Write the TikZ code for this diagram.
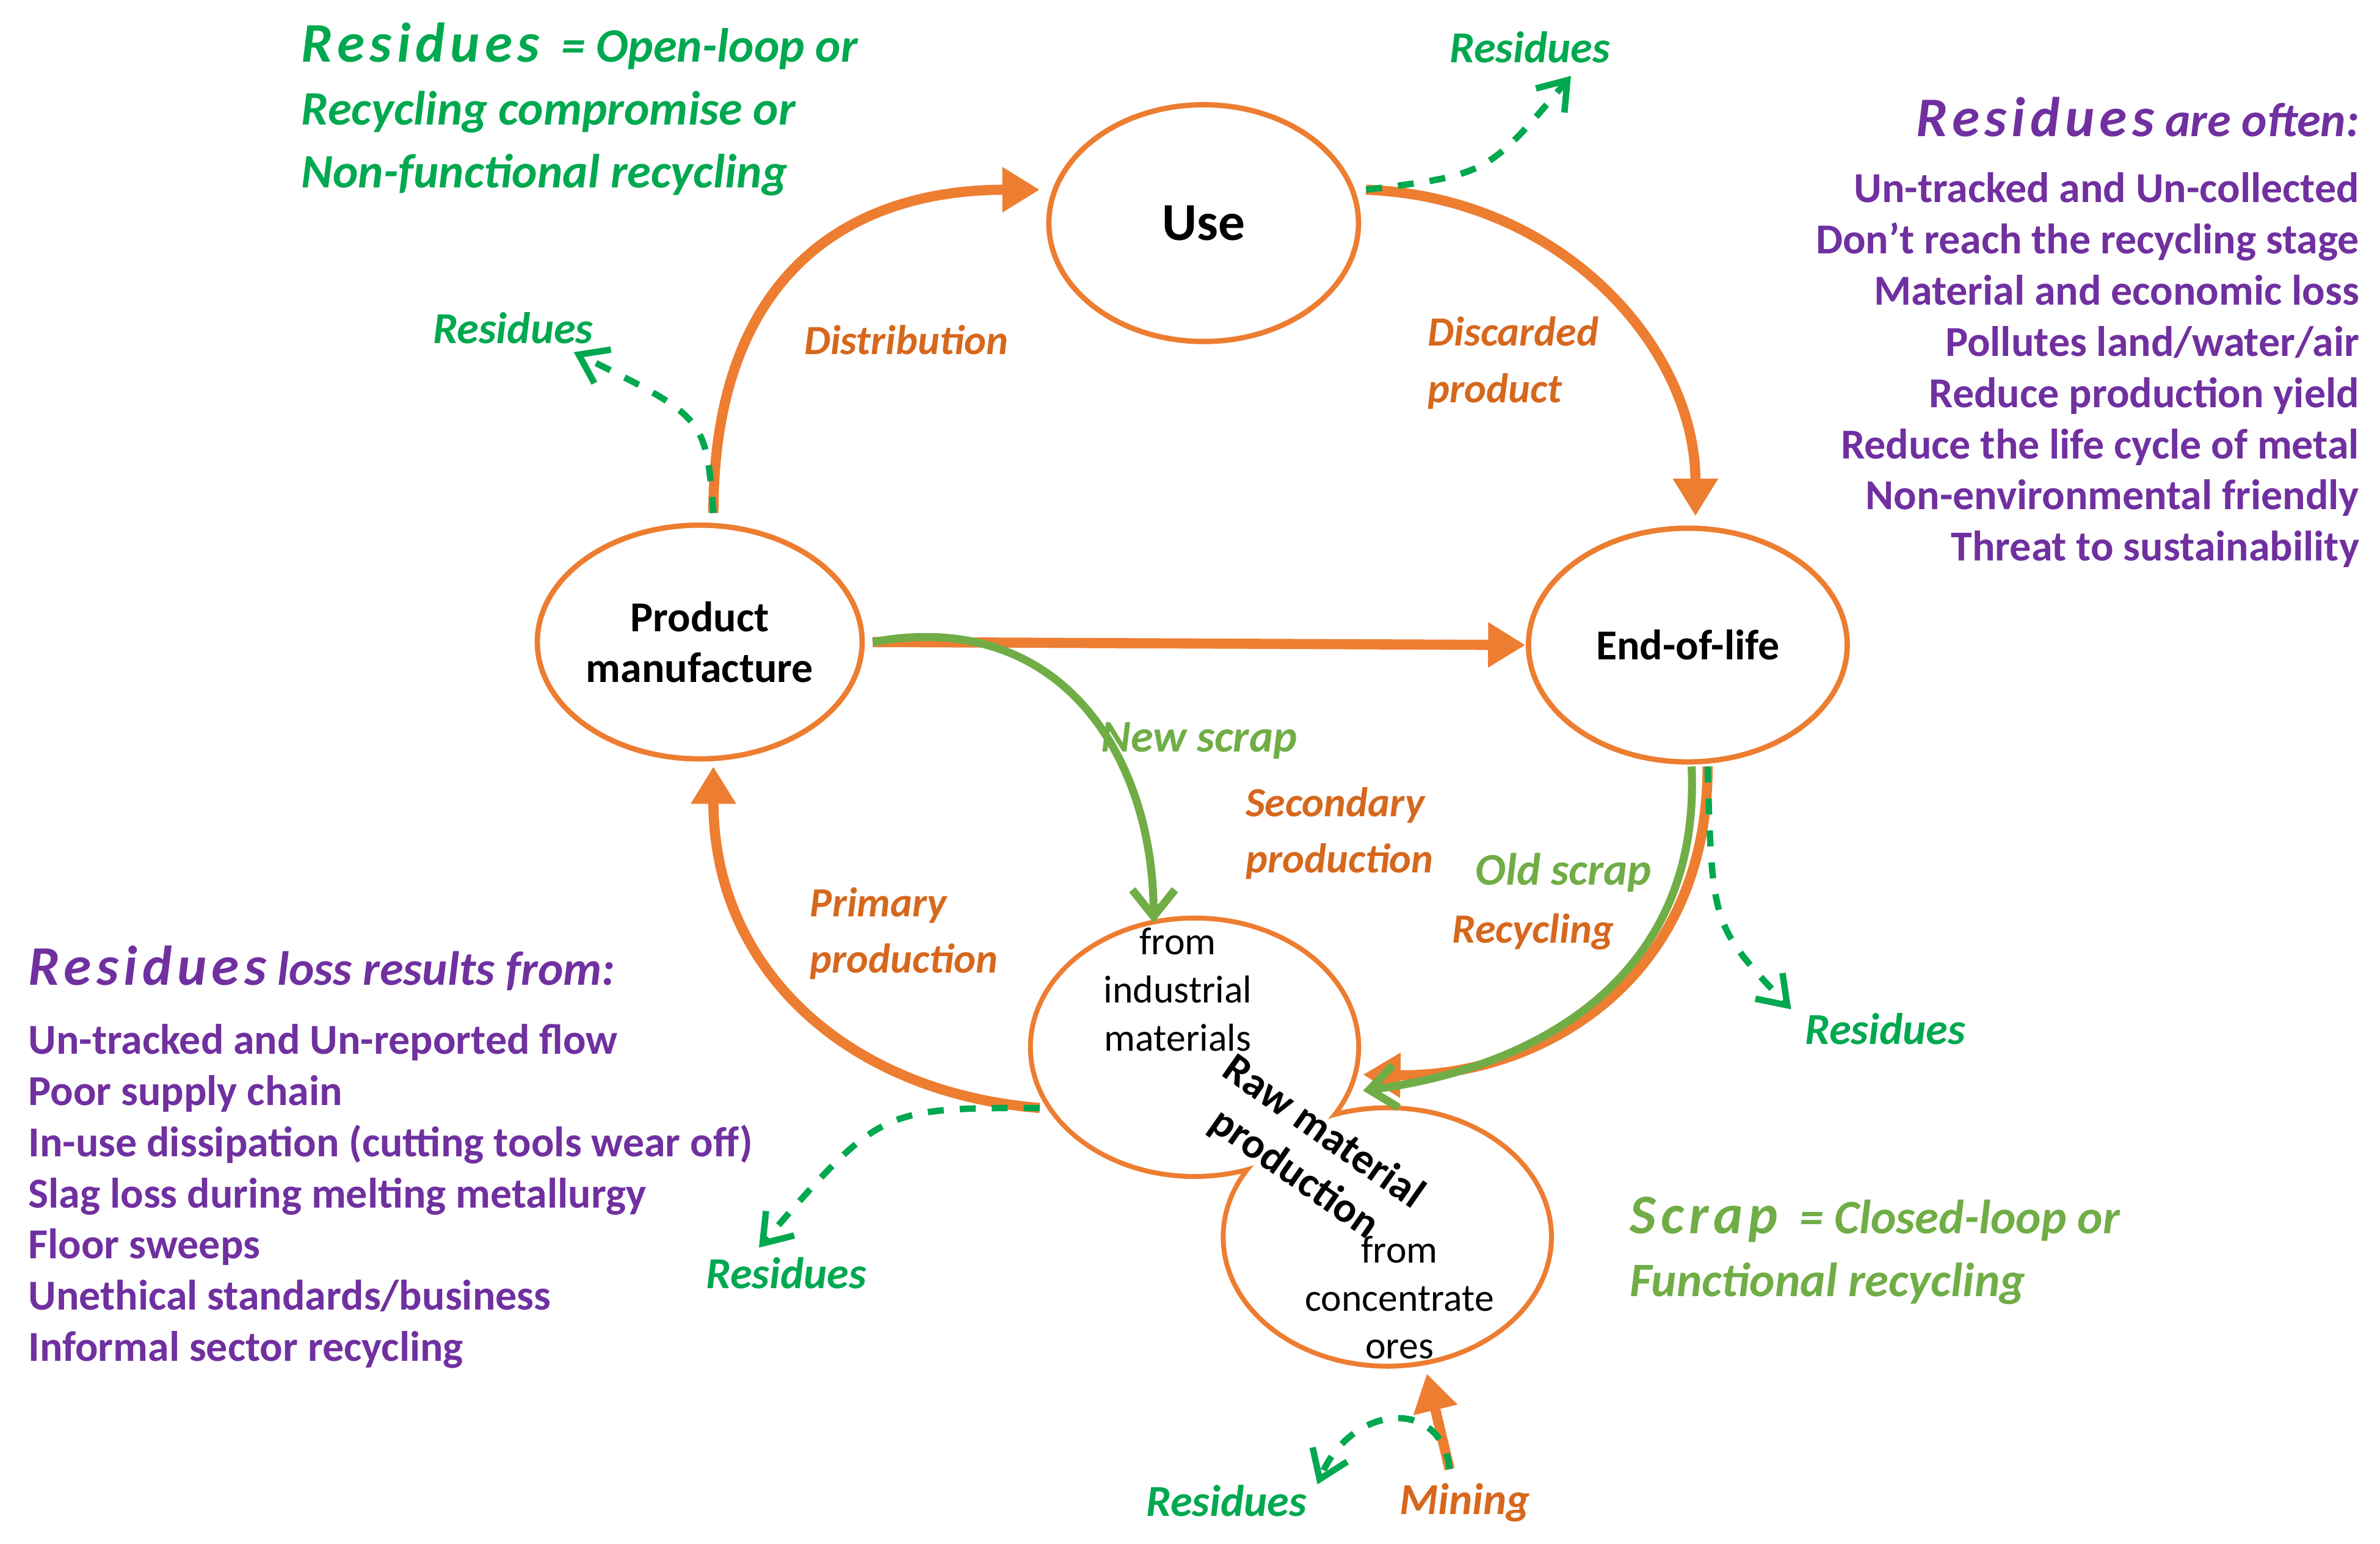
\documentclass[tikz,border=0pt]{standalone}
\usepackage{fontspec}
\setmainfont{Carlito}
\usetikzlibrary{shapes.geometric,arrows.meta}

\definecolor{flow}{RGB}{237,125,49}
\definecolor{flowtext}{RGB}{214,104,30}
\definecolor{loss}{RGB}{0,168,80}
\definecolor{scrap}{RGB}{112,173,71}
\definecolor{note}{RGB}{112,48,160}
\newcommand{\spaced}[1]{{\fontsize{10.5}{12}\selectfont\addfontfeature{LetterSpace=9}#1}}

\begin{document}
\begin{tikzpicture}[x=0.1mm, y=-0.1mm,
    stage/.style={ellipse, draw=flow, line width=1pt, fill=white, font=\fontsize{8}{9.5}\selectfont\bfseries, align=center, inner sep=0pt},
    move/.style={flow, line width=1.9pt, -{Triangle[length=7pt,width=8pt]}},
    lost/.style={loss, line width=1.2pt, dashed, -{Straight Barb[length=5pt,width=7pt]}},
    tag/.style={font=\fontsize{7.8}{9.6}\selectfont\bfseries\itshape, inner sep=0pt},
    list/.style={note, font=\fontsize{8}{9.6}\selectfont\bfseries, inner sep=0pt}]
  \useasboundingbox (0,0) rectangle (1568,1017);

  % stages
  \node[stage, minimum width=20.4mm, minimum height=15.6mm, font=\fontsize{10}{12}\selectfont\bfseries] (use) at (793,147) {Use};
  \node[stage, minimum width=21.4mm, minimum height=15.4mm] (make) at (461,423) {Product\\manufacture};
  \node[stage, minimum width=21mm, minimum height=15.4mm] (eol) at (1112,425) {End-of-life};
  \node[stage, minimum width=21.6mm, minimum height=17mm] (ore) at (914,815) {};
  \node[stage, minimum width=21.6mm, minimum height=17mm] (ind) at (787,690) {};
  \fill[white] (ore) ellipse (10.65mm and 8.35mm);
  \fill[white] (ind) ellipse (10.65mm and 8.35mm);
  \node[font=\fontsize{7.3}{9}\selectfont, align=center] (indtext) at (776,652) {from\\industrial\\materials};
  \node[font=\fontsize{7.3}{9}\selectfont, align=center] (oretext) at (922,855) {from\\concentrate\\ores};
  \node[font=\fontsize{8}{9.5}\selectfont\bfseries, rotate=-35, align=center] (raw) at (862,760) {Raw material\\production};

  % flows
  \coordinate (makeN) at (470,338);
  \coordinate (useW) at (685,125);
  \coordinate (useE) at (900,125);
  \coordinate (eolN) at (1117,340);
  \coordinate (makeE) at (575,423);
  \coordinate (eolW) at (1005,425);
  \coordinate (indW) at (685,730);
  \coordinate (makeS) at (470,505);
  \coordinate (eolS) at (1125,505);
  \coordinate (indE) at (898,708);
  \coordinate (indN) at (760,608);
  \coordinate (mine) at (955,968);
  \coordinate (oreS) at (940,905);
  \draw[move] (makeN) .. controls (470,180) and (560,125) .. (useW);
  \draw[move] (useE) .. controls (1030,130) and (1117,230) .. (eolN);
  \draw[move] (makeE) -- (eolW);
  \draw[move] (indW) .. controls (560,720) and (470,640) .. (makeS);
  \draw[move] (eolS) .. controls (1125,650) and (1010,710) .. (indE);
  \draw[scrap, line width=1.5pt, -{Straight Barb[length=5pt,width=8pt]}] ([xshift=-3]eolS) .. controls (1121,646) and (1010,704) .. ([yshift=-3]indE);
  \draw[scrap, line width=1.5pt, -{Straight Barb[length=5pt,width=8pt]}] (makeE) .. controls (700,400) and (760,500) .. (indN);
  \draw[move] (mine) -- (oreS);

  % residues
  \coordinate (r1) at (1035,50);
  \coordinate (r2) at (378,232);
  \coordinate (r3) at (500,822);
  \coordinate (r4) at (1180,665);
  \coordinate (r5) at (868,978);
  \draw[lost] (useE) .. controls (980,115) .. (r1);
  \draw[lost] (makeN) .. controls (465,275) .. (r2);
  \draw[lost] (indW) .. controls (580,730) .. (r3);
  \draw[lost] (eolS) .. controls (1128,610) .. (r4);
  \draw[lost] (mine) .. controls (950,920) and (890,925) .. (r5);
  \foreach \name/\pos in {l1/{1008,31}, l2/{338,216}, l3/{1242,678}, l4/{518,839}, l5/{808,989}}
    \node[tag, loss, font=\fontsize{8.3}{9.6}\selectfont\bfseries\itshape] (\name) at (\pos) {Residues};

  % flow labels
  \node[tag, flowtext] (dist) at (597,224) {Distribution};
  \node[tag, flowtext, anchor=west, align=left] (disc) at (940,239) {Discarded\\[1pt]product};
  \node[tag, scrap, font=\fontsize{8.5}{10}\selectfont\bfseries\itshape] (new) at (790,488) {New scrap};
  \node[tag, flowtext, anchor=west, align=left] (sec) at (820,549) {Secondary\\[1pt]production};
  \node[tag, scrap, font=\fontsize{8.5}{10}\selectfont\bfseries\itshape] (old) at (1030,575) {Old scrap};
  \node[tag, flowtext] (rec) at (1010,614) {Recycling};
  \node[tag, flowtext, anchor=west, align=left] (prim) at (533,615) {Primary\\[1pt]production};
  \node[tag, flowtext, font=\fontsize{8.3}{9.6}\selectfont\bfseries\itshape] (mining) at (965,990) {Mining};

  % notes
  \node[tag, loss, anchor=west, align=left, font=\fontsize{9}{11.8}\selectfont\bfseries\itshape] (open) at (198,72) {\spaced{Residues}\ \ = Open-loop or\\Recycling compromise or\\Non-functional recycling};
  \node[tag, scrap, anchor=west, align=left, font=\fontsize{9}{11.8}\selectfont\bfseries\itshape] (closed) at (1073,824) {\spaced{Scrap}\ \ = Closed-loop or\\Functional recycling};
  \node[tag, note, anchor=east, font=\fontsize{9}{11}\selectfont\bfseries\itshape] (oftenT) at (1555,77) {\spaced{Residues} are often:};
  \node[list, anchor=north east, align=right] (often) at (1555,113) {Un-tracked and Un-collected\\Don’t reach the recycling stage\\Material and economic loss\\Pollutes land/water/air\\Reduce production yield\\Reduce the life cycle of metal\\Non-environmental friendly\\Threat to sustainability};
  \node[tag, note, anchor=west, font=\fontsize{9}{11}\selectfont\bfseries\itshape] (lossT) at (18,638) {\spaced{Residues} loss results from:};
  \node[list, anchor=north west, align=left] (causes) at (18,674) {Un-tracked and Un-reported flow\\Poor supply chain\\In-use dissipation (cutting tools wear off)\\Slag loss during melting metallurgy\\Floor sweeps\\Unethical standards/business\\Informal sector recycling};
\end{tikzpicture}
\end{document}
